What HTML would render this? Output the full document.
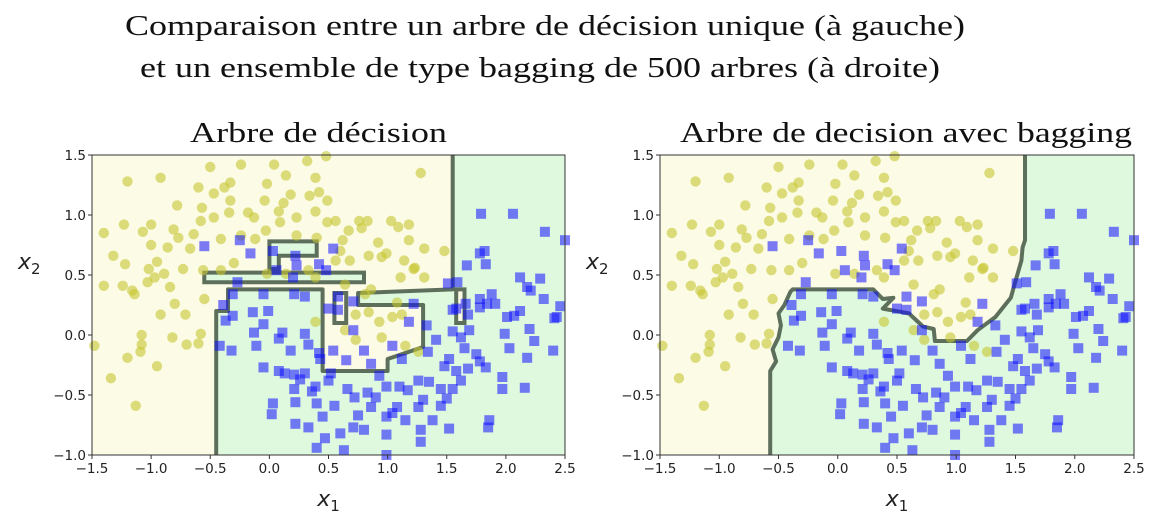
<!DOCTYPE html>
<html><head><meta charset="utf-8"><style>
body{margin:0;background:#fff;width:1152px;height:518px;overflow:hidden}
svg{display:block}
.t{font-family:"Liberation Serif",serif;fill:#111}
.tk{font-family:"DejaVu Sans","Liberation Sans",sans-serif;font-size:13.5px;fill:#222}
.ax{font-family:"DejaVu Sans","Liberation Sans",sans-serif;font-size:22px;fill:#222;font-style:italic}
</style></head><body>
<svg id="s" width="1152" height="518">
<text class="t" x="125" y="35" font-size="29" textLength="840" lengthAdjust="spacingAndGlyphs">Comparaison entre un arbre de décision unique (à gauche)</text>
<text class="t" x="140" y="77" font-size="29" textLength="800" lengthAdjust="spacingAndGlyphs">et un ensemble de type bagging de 500 arbres (à droite)</text>
</svg>
<script>
const yellowX=[-1.48,-1.40,-1.40,-1.32,-1.20,-1.23,-1.22,-1.24,-1.16,-1.14,-1.34,-1.20,-1.13,-1.08,-1.08,-1.09,-1.07,-1.0,-1.0,-1.02,-1.03,-0.95,-0.97,-0.95,-0.92,-0.92,-0.89,-0.86,-0.84,-0.82,-0.81,-0.80,-0.78,-0.77,-0.73,-0.71,-0.70,-0.67,-0.64,-0.60,-0.60,-0.58,-0.57,-0.56,-0.58,-0.50,-0.47,-0.47,-0.41,-0.41,-0.38,-0.33,-0.33,-0.34,-0.24,-0.24,-0.18,-0.13,-0.12,-0.04,-0.03,-0.02,0.04,0.08,0.09,0.12,0.14,0.18,0.23,0.23,0.32,0.34,0.39,0.39,0.42,0.40,0.48,0.49,0.49,0.56,0.56,0.62,0.67,0.68,0.76,0.78,0.83,0.84,0.92,0.95,0.99,1.03,1.09,1.11,1.14,1.18,1.18,1.23,1.28,1.31,1.48,1.31,0.73,0.84,0.93,1.04,1.12,0.95,1.15,1.26,1.08,0.86,0.64,0.81,0.39,0.64,0.73,-0.02,0.14,0.33,0.39,-0.55,-0.30,0.60,1.22];
const yellowY=[-0.09,0.85,0.41,0.66,1.28,0.92,0.59,0.41,0.37,0.34,-0.36,-0.19,-0.59,0.0,-0.08,-0.14,0.86,0.92,0.75,0.55,0.44,0.61,0.48,-0.26,1.31,0.17,0.51,0.73,0.40,-0.02,0.88,0.26,1.08,0.81,0.55,0.17,-0.08,0.72,0.84,-0.07,1.23,0.95,1.06,0.54,0.01,1.40,1.18,0.98,0.80,0.54,1.23,1.27,1.12,1.02,0.83,1.42,1.02,0.98,0.80,1.12,0.87,1.26,1.42,1.03,0.94,1.10,1.33,1.17,0.98,0.83,1.45,1.16,1.31,1.03,1.19,0.81,1.49,1.12,0.94,0.95,0.62,0.79,0.87,0.62,0.95,0.89,0.95,0.66,0.77,0.65,0.68,0.95,0.90,0.48,0.62,0.92,0.79,0.56,1.35,0.72,0.70,0.48,0.17,0.19,0.11,0.15,0.17,-0.02,-0.09,-0.14,0.27,0.38,0.42,0.34,0.11,0.04,-0.04,0.51,0.51,0.54,0.48,0.30,0.60,0.70,0.55];
const blueX=[-0.55,-0.25,-0.16,0.03,0.06,0.22,0.23,0.42,0.48,0.54,0.20,-0.27,-0.31,-0.39,-0.37,-0.31,-0.42,-0.32,-0.14,-0.11,-0.13,-0.05,-0.05,-0.01,-0.05,0.08,0.11,0.18,0.21,0.30,0.33,0.08,0.13,0.21,0.26,0.21,0.22,0.03,0.02,0.22,0.33,0.39,0.40,0.45,0.40,0.52,0.55,0.60,0.63,0.66,0.72,0.71,0.75,0.80,0.86,0.83,0.90,0.93,0.99,0.99,0.99,1.04,1.08,1.15,1.17,1.26,1.26,1.28,1.30,1.28,1.35,1.38,1.45,1.45,1.50,1.52,1.48,1.52,1.55,1.58,1.62,1.68,1.75,1.78,1.83,1.86,1.85,1.97,1.97,2.16,2.18,2.24,2.40,2.20,1.99,2.03,2.01,2.07,2.12,2.18,2.29,2.12,2.21,2.32,2.41,2.43,2.46,2.50,2.33,2.06,1.79,1.78,1.82,1.83,1.67,1.59,1.51,1.55,1.58,1.66,1.68,1.78,1.78,1.84,1.88,1.91,1.55,1.69,1.62,1.65,1.33,1.41,1.34,1.18,1.22,1.12,1.04,0.86,0.80,0.71,0.65,0.54,0.43,0.50,0.30,0.58,0.58,0.71,0.50,0.42,0.30,0.99,0.47,0.36,1.10];
const blueY=[0.74,0.79,0.68,0.70,0.54,0.66,0.58,0.59,0.54,0.72,0.48,0.44,0.34,0.25,0.12,0.16,-0.09,-0.13,0.19,-0.09,0.02,0.34,0.09,0.20,-0.27,-0.03,0.02,-0.13,0.34,0.32,-0.08,-0.30,-0.32,-0.33,-0.37,-0.45,-0.56,-0.57,-0.66,-0.74,-0.77,-0.43,-0.57,-0.68,-0.94,-0.32,-0.59,-0.82,-0.96,-0.45,-0.52,-0.77,-0.67,-0.79,-0.60,-0.48,-0.52,-0.34,-0.43,-0.83,-0.68,-0.65,-0.60,-0.71,-0.46,-0.38,-0.60,-0.79,-0.54,-0.89,-0.39,-0.71,-0.59,-0.45,-0.53,-0.78,-0.26,-0.20,-0.45,-0.30,-0.38,-0.28,-0.16,-0.22,-0.27,-0.71,-0.77,-0.35,-0.45,-0.44,-0.19,-0.05,-0.13,0.05,0.01,-0.11,0.15,0.16,0.20,0.40,0.47,0.48,0.37,0.30,0.14,0.15,0.24,0.79,0.86,1.01,1.01,0.68,0.70,0.59,0.58,0.44,0.43,0.21,0.22,0.26,0.17,0.30,0.23,0.26,0.34,0.26,0.03,0.04,-0.02,-0.11,0.08,-0.04,-0.14,0.11,0.26,-0.20,-0.09,-0.24,-0.13,0.04,-0.21,-0.13,-0.20,-0.38,-0.32,0.32,0.21,0.28,0.22,-0.15,0.01,-1.0,-0.86,-0.47,-0.43];
const xTicks=[-1.5,-1.0,-0.5,0.0,0.5,1.0,1.5,2.0,2.5];
const yTicks=[-1.0,-0.5,0.0,0.5,1.0,1.5];
const tickFmt=v=>(v<0?"\u2212":"")+Math.abs(v).toFixed(1);
// boundary contours (data coords); first N points form the drawn boundary line
const treeGreenX=[-0.45,-0.45,-0.35,-0.35,0.45,0.45,1.0,1.0,1.3,1.3,0.75,0.75,1.55,1.55,2.5,2.5];
const treeGreenY=[-1.0,0.2,0.2,0.38,0.38,-0.3,-0.3,-0.2,-0.1,0.25,0.25,0.35,0.38,1.5,1.5,-1.0];
const treeLineN=14;
const treeStripX=[-0.55,0.8,0.8,-0.55];
const treeStripY=[0.52,0.52,0.44,0.44];
const treeIslandX=[0.0,0.08,0.08,0.4,0.4,0.0];
const treeIslandY=[0.55,0.55,0.66,0.66,0.78,0.78];
const treeIsland2X=[0.55,0.65,0.65,0.55];
const treeIsland2Y=[0.35,0.35,0.1,0.1];
const treeIsland3X=[1.58,1.65,1.65,1.58];
const treeIsland3Y=[0.38,0.38,0.1,0.1];
const bagX=[-0.57,-0.57,-0.52,-0.55,-0.5,-0.48,-0.5,-0.45,-0.4,-0.38,0.30,0.38,0.47,0.38,0.60,0.72,0.81,0.82,1.09,1.18,1.33,1.46,1.50,1.55,1.56,1.58,1.58,2.5,2.5];
const bagY=[-1.0,-0.3,-0.22,-0.12,-0.02,0.08,0.18,0.25,0.36,0.38,0.38,0.30,0.31,0.22,0.18,0.07,0.05,-0.05,-0.05,0.04,0.15,0.31,0.45,0.62,0.73,0.79,1.5,1.5,-1.0];
const bagLineN=27;
const NS="http://www.w3.org/2000/svg";
const svg=document.getElementById('s');
function mk(t,a,p){const e=document.createElementNS(NS,t);for(const k in a)e.setAttribute(k,a[k]);(p||svg).appendChild(e);return e;}
function plot(x0,x1,y0,y1,title,tLen,tX,green,lineN,extras,pre){
  const sx=v=>x0+(v+1.5)/4*(x1-x0), sy=v=>y1-(v+1)/2.5*(y1-y0);
  const g=mk('g',{});
  
  
  const bg=mk('rect',{x:x0,y:y0,width:x1-x0,height:y1-y0,fill:'#fcfbe5'},g);
  
  
  const pts=(X,Y)=>X.map((v,i)=>sx(v).toFixed(1)+','+sy(Y[i]).toFixed(1)).join(' ');
  const gp=mk('polygon',{points:pts(green[0],green[1]),fill:'#dff9df'},g);
  
  
  const bl=mk('polyline',{points:pts(green[0].slice(0,lineN),green[1].slice(0,lineN)),fill:'none',stroke:'#4d5f4d','stroke-width':4,'stroke-opacity':0.9,'stroke-linejoin':'round'},g);
  
  
  extras.forEach(([X,Y,f])=>{const e=mk('polygon',{points:pts(X,Y),fill:f,stroke:'#4d5f4d','stroke-width':4,'stroke-opacity':0.9},g);
    
    });
  yellowX.forEach((v,i)=>{const c=mk('circle',{cx:sx(v),cy:sy(yellowY[i]),r:5.2,fill:'#c6c630','fill-opacity':0.6},g);
    
    });
  blueX.forEach((v,i)=>{const r=mk('rect',{x:sx(v)-5,y:sy(blueY[i])-5,width:10,height:10,fill:'#1010ff','fill-opacity':0.55},g);
    
    });
  const fr=mk('rect',{x:x0,y:y0,width:x1-x0,height:y1-y0,fill:'none',stroke:'#333','stroke-width':1},g);
  
  
  xTicks.forEach(v=>{mk('line',{x1:sx(v),x2:sx(v),y1:y1,y2:y1+4,stroke:'#333'},g);
    const t=mk('text',{x:sx(v),y:y1+18,'text-anchor':'middle',class:'tk'},g);t.textContent=tickFmt(v);
    
    });
  yTicks.forEach(v=>{mk('line',{x1:x0-4,x2:x0,y1:sy(v),y2:sy(v),stroke:'#333'},g);
    const t=mk('text',{x:x0-6,y:sy(v)+5,'text-anchor':'end',class:'tk'},g);t.textContent=tickFmt(v);
    
    });
  const xl=mk('text',{x:(x0+x1)/2,y:y1+51,'text-anchor':'middle',class:'ax'},g);xl.innerHTML='x<tspan font-size="15" dy="5" font-style="normal">1</tspan>';
  
  
  const yl=mk('text',{x:x0-74,y:(y0+y1)/2-36,class:'ax'},g);yl.innerHTML='x<tspan font-size="15" dy="5" font-style="normal">2</tspan>';
  
  
  const tt=mk('text',{x:tX,y:142,class:'t','font-size':28,textLength:tLen,lengthAdjust:'spacingAndGlyphs'},g);tt.textContent=title;
  
  
}
plot(92,565,155,455,'Arbre de décision',257,190,[treeGreenX,treeGreenY],treeLineN,
  [[treeStripX,treeStripY,'#dff9df'],[treeIslandX,treeIslandY,'#dff9df'],[treeIsland2X,treeIsland2Y,'#fcfbe5'],[treeIsland3X,treeIsland3Y,'#fcfbe5']],'tree');
plot(660,1134,155,455,'Arbre de decision avec bagging',452,680,[bagX,bagY],bagLineN,[],'bagging');
</script>
</body></html>
